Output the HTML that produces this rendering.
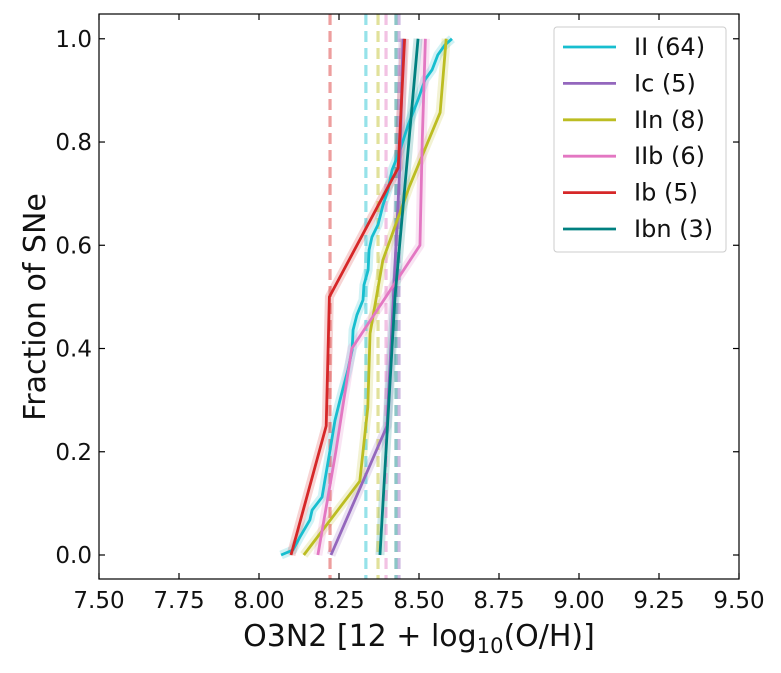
<!DOCTYPE html>
<html><head><meta charset="utf-8"><style>
body{margin:0;background:#fff;}
svg text{font-family:"DejaVu Sans","Liberation Sans",sans-serif;fill:#111;}
</style></head><body>
<svg id="chart" width="781" height="668" viewBox="0 0 781 668" xmlns="http://www.w3.org/2000/svg">
<g id="shades"></g>
<g id="medians"></g>
<g id="lines"></g>
<rect x="99" y="14" width="640" height="565" fill="none" stroke="#000" stroke-width="1.2"/>
<g id="ticks"></g>
<text x="419" y="646" text-anchor="middle" font-size="30">O3N2 [12 + log<tspan font-size="21" dy="7">10</tspan><tspan dy="-7">(O/H)]</tspan></text>
<text transform="translate(45,307) rotate(-90)" text-anchor="middle" font-size="30">Fraction of SNe</text>
<g id="legend">
<rect x="554" y="27" width="172" height="225" rx="3" fill="#fff" fill-opacity="0.85" stroke="#ccc"/>
</g>
</svg>
<script>
const xTicks=[7.5,7.75,8.0,8.25,8.5,8.75,9.0,9.25,9.5];
const xTickLabels=["7.50","7.75","8.00","8.25","8.50","8.75","9.00","9.25","9.50"];
const yTicks=[0,0.2,0.4,0.6,0.8,1.0];
const yTickLabels=["0.0","0.2","0.4","0.6","0.8","1.0"];
const seriesNames=["II (64)","Ic (5)","IIn (8)","IIb (6)","Ib (5)","Ibn (3)"];
const seriesColors=["#17becf","#9467bd","#bcbd22","#e377c2","#d62728","#008080"];
const medians=[8.334,8.4375,8.372,8.397,8.222,8.428];
const iiX=[8.069,8.106,8.128,8.159,8.166,8.197,8.206,8.222,8.2375,8.253,8.278,8.291,8.294,8.306,8.325,8.328,8.341,8.344,8.353,8.372,8.3875,8.403,8.416,8.441,8.466,8.497,8.519,8.541,8.559,8.581,8.603];
const iiY=[0,0.0097,0.035,0.068,0.087,0.112,0.145,0.203,0.261,0.300,0.359,0.397,0.436,0.465,0.494,0.523,0.552,0.591,0.616,0.640,0.678,0.707,0.746,0.785,0.833,0.882,0.921,0.940,0.969,0.988,1.0];
const icX=[8.225,8.40,8.42,8.44,8.45];
const icY=[0,0.25,0.5,0.75,1.0];
const iinX=[8.14,8.315,8.34,8.347,8.387,8.47,8.566,8.585];
const iinY=[0,0.143,0.286,0.429,0.571,0.714,0.857,1.0];
const iibX=[8.184,8.24,8.29,8.503,8.51,8.52];
const iibY=[0,0.2,0.4,0.6,0.8,1.0];
const ibX=[8.10,8.21,8.22,8.435,8.455];
const ibY=[0,0.25,0.5,0.75,1.0];
const ibnX=[8.378,8.425,8.497];
const ibnY=[0,0.5,1.0];
const NS="http://www.w3.org/2000/svg";
const L=99,R=739,T=14,B=579,xmin=7.5,xmax=9.5,ymin=-0.0465,ymax=1.048;
const sx=v=>L+(v-xmin)/(xmax-xmin)*(R-L);
const sy=v=>B-(v-ymin)/(ymax-ymin)*(B-T);
function mk(tag,attrs,parent){const e=document.createElementNS(NS,tag);for(const k in attrs)e.setAttribute(k,attrs[k]);parent.appendChild(e);return e;}
const allX=[iiX,icX,iinX,iibX,ibX,ibnX],allY=[iiY,icY,iinY,iibY,ibY,ibnY];
const slugs=["ii","ic","iin","iib","ib","ibn"];
const gS=document.getElementById('shades'),gM=document.getElementById('medians'),gL=document.getElementById('lines');
medians.forEach((m,i)=>{const e=mk('line',{x1:sx(m),x2:sx(m),y1:T,y2:B,stroke:seriesColors[i],'stroke-width':3.2,'stroke-dasharray':'11 6','stroke-opacity':0.45},gM);

});
allX.forEach((xs,i)=>{const pts=xs.map((x,j)=>sx(x)+','+sy(allY[i][j])).join(' ');
const s=mk('polyline',{points:pts,fill:'none',stroke:seriesColors[i],'stroke-width':9,'stroke-opacity':0.2,'stroke-linejoin':'round'},gS);


const l=mk('polyline',{points:pts,fill:'none',stroke:seriesColors[i],'stroke-width':2.8,'stroke-linejoin':'round'},gL);

});
const gT=document.getElementById('ticks');
xTicks.forEach((v,i)=>{const x=sx(v);mk('line',{x1:x,x2:x,y1:B,y2:B-6,stroke:'#000','stroke-width':1.2},gT);mk('line',{x1:x,x2:x,y1:T,y2:T+6,stroke:'#000','stroke-width':1.2},gT);
const t=mk('text',{x:x,y:608,'text-anchor':'middle','font-size':23},gT);t.textContent=xTickLabels[i];

});
yTicks.forEach((v,i)=>{const y=sy(v);mk('line',{x1:L,x2:L+6,y1:y,y2:y,stroke:'#000','stroke-width':1.2},gT);mk('line',{x1:R,x2:R-6,y1:y,y2:y,stroke:'#000','stroke-width':1.2},gT);
const t=mk('text',{x:L-7,y:y+8,'text-anchor':'end','font-size':23},gT);t.textContent=yTickLabels[i];

});
const gLeg=document.getElementById('legend');
seriesNames.forEach((n,i)=>{const y=47+i*36.4;
const g=mk('g',{},gLeg);


mk('line',{x1:563,x2:616,y1:y,y2:y,stroke:seriesColors[i],'stroke-width':2.8},g);
const t=mk('text',{x:634,y:y+8,'font-size':24},g);t.textContent=n;});
</script>
</body></html>
